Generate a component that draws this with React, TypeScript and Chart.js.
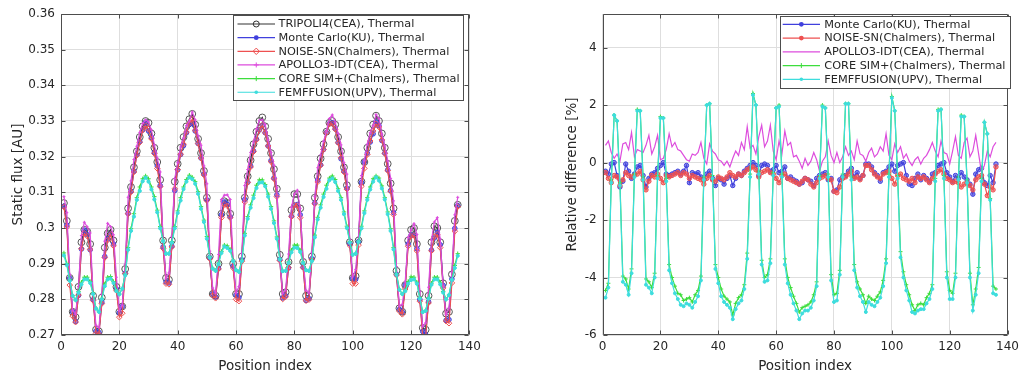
import React, { useEffect, useRef } from 'react';
import { Chart, registerables } from 'chart.js';

Chart.register(...registerables);

// ---------------- data ----------------
const positionIndex = [
  1, 2, 3, 4, 5, 6, 7, 8, 9, 10, 11, 12, 13, 14, 15, 16, 17, 18, 19, 20,
  21, 22, 23, 24, 25, 26, 27, 28, 29, 30, 31, 32, 33, 34, 35, 36, 37, 38, 39, 40,
  41, 42, 43, 44, 45, 46, 47, 48, 49, 50, 51, 52, 53, 54, 55, 56, 57, 58, 59, 60,
  61, 62, 63, 64, 65, 66, 67, 68, 69, 70, 71, 72, 73, 74, 75, 76, 77, 78, 79, 80,
  81, 82, 83, 84, 85, 86, 87, 88, 89, 90, 91, 92, 93, 94, 95, 96, 97, 98, 99, 100,
  101, 102, 103, 104, 105, 106, 107, 108, 109, 110, 111, 112, 113, 114, 115, 116, 117, 118, 119, 120,
  121, 122, 123, 124, 125, 126, 127, 128, 129, 130, 131, 132, 133, 134, 135, 136,
];

const xTicks = [0, 20, 40, 60, 80, 100, 120, 140];
const fluxTicks = [0.27, 0.28, 0.29, 0.3, 0.31, 0.32, 0.33, 0.34, 0.35, 0.36];
const diffTicks = [-6, -4, -2, 0, 2, 4];

const seriesNames = [
  'TRIPOLI4(CEA), Thermal',
  'Monte Carlo(KU), Thermal',
  'NOISE-SN(Chalmers), Thermal',
  'APOLLO3-IDT(CEA), Thermal',
  'CORE SIM+(Chalmers), Thermal',
  'FEMFFUSION(UPV), Thermal',
];

const tripoliFlux = [
  0.3070, 0.3020, 0.2860, 0.2765, 0.2750, 0.2835, 0.2960, 0.2995, 0.2990, 0.2955,
  0.2810, 0.2715, 0.2710, 0.2805, 0.2945, 0.2985, 0.2995, 0.2965, 0.2835, 0.2765,
  0.2780, 0.2885, 0.3055, 0.3115, 0.3170, 0.3215, 0.3255, 0.3285, 0.3300, 0.3295,
  0.3265, 0.3225, 0.3185, 0.3135, 0.2965, 0.2860, 0.2855, 0.2965, 0.3130, 0.3180,
  0.3225, 0.3255, 0.3285, 0.3305, 0.3320, 0.3290, 0.3250, 0.3210, 0.3160, 0.3085,
  0.2920, 0.2815, 0.2810, 0.2900, 0.3040, 0.3075, 0.3070, 0.3040, 0.2900, 0.2815,
  0.2815, 0.2920, 0.3085, 0.3145, 0.3190, 0.3235, 0.3270, 0.3300, 0.3310, 0.3285,
  0.3250, 0.3210, 0.3165, 0.3110, 0.2925, 0.2815, 0.2820, 0.2905, 0.3050, 0.3095,
  0.3095, 0.3055, 0.2905, 0.2810, 0.2810, 0.2920, 0.3085, 0.3145, 0.3195, 0.3235,
  0.3270, 0.3295, 0.3300, 0.3290, 0.3255, 0.3215, 0.3170, 0.3120, 0.2960, 0.2860,
  0.2865, 0.2965, 0.3130, 0.3185, 0.3225, 0.3265, 0.3290, 0.3315, 0.3300, 0.3265,
  0.3225, 0.3180, 0.3125, 0.3055, 0.2880, 0.2775, 0.2765, 0.2840, 0.2965, 0.2995,
  0.3000, 0.2955, 0.2815, 0.2720, 0.2715, 0.2810, 0.2960, 0.3005, 0.3000, 0.2960,
  0.2845, 0.2760, 0.2765, 0.2870, 0.3020, 0.3065,
];

const monteCarloFlux = [
  0.3061, 0.3008, 0.2859, 0.2765, 0.2738, 0.2811, 0.2941, 0.2994, 0.2981, 0.2939,
  0.2799, 0.2711, 0.2707, 0.2792, 0.2920, 0.2969, 0.2983, 0.2955, 0.2829, 0.2762,
  0.2780, 0.2873, 0.3041, 0.3103, 0.3159, 0.3205, 0.3242, 0.3275, 0.3297, 0.3272,
  0.3254, 0.3212, 0.3174, 0.3119, 0.2947, 0.2849, 0.2846, 0.2949, 0.3105, 0.3163,
  0.3206, 0.3231, 0.3267, 0.3290, 0.3293, 0.3272, 0.3237, 0.3196, 0.3151, 0.3079,
  0.2917, 0.2815, 0.2807, 0.2887, 0.3037, 0.3073, 0.3067, 0.3031, 0.2893, 0.2812,
  0.2805, 0.2911, 0.3080, 0.3128, 0.3174, 0.3216, 0.3249, 0.3275, 0.3287, 0.3267,
  0.3230, 0.3189, 0.3140, 0.3093, 0.2912, 0.2804, 0.2810, 0.2888, 0.3033, 0.3064,
  0.3066, 0.3037, 0.2890, 0.2797, 0.2802, 0.2914, 0.3070, 0.3134, 0.3177, 0.3220,
  0.3268, 0.3293, 0.3295, 0.3278, 0.3240, 0.3194, 0.3159, 0.3111, 0.2956, 0.2859,
  0.2856, 0.2962, 0.3128, 0.3185, 0.3210, 0.3241, 0.3264, 0.3297, 0.3287, 0.3245,
  0.3210, 0.3163, 0.3105, 0.3043, 0.2870, 0.2772, 0.2764, 0.2840, 0.2955, 0.2980,
  0.2980, 0.2942, 0.2800, 0.2710, 0.2701, 0.2793, 0.2938, 0.2972, 0.2988, 0.2953,
  0.2839, 0.2741, 0.2743, 0.2857, 0.2999, 0.3063,
];

const noiseSnFlux = [
  0.3059, 0.3003, 0.2840, 0.2753, 0.2736, 0.2812, 0.2942, 0.2985, 0.2977, 0.2940,
  0.2797, 0.2704, 0.2702, 0.2788, 0.2917, 0.2966, 0.2982, 0.2950, 0.2824, 0.2750,
  0.2761, 0.2872, 0.3040, 0.3101, 0.3157, 0.3204, 0.3240, 0.3274, 0.3287, 0.3277,
  0.3250, 0.3209, 0.3167, 0.3116, 0.2943, 0.2844, 0.2842, 0.2947, 0.3110, 0.3164,
  0.3207, 0.3235, 0.3269, 0.3293, 0.3305, 0.3274, 0.3237, 0.3196, 0.3149, 0.3077,
  0.2914, 0.2811, 0.2803, 0.2885, 0.3029, 0.3066, 0.3062, 0.3029, 0.2888, 0.2800,
  0.2795, 0.2907, 0.3073, 0.3128, 0.3171, 0.3214, 0.3247, 0.3275, 0.3288, 0.3267,
  0.3230, 0.3186, 0.3138, 0.3088, 0.2909, 0.2801, 0.2807, 0.2889, 0.3032, 0.3064,
  0.3063, 0.3029, 0.2889, 0.2796, 0.2799, 0.2911, 0.3068, 0.3129, 0.3176, 0.3220,
  0.3267, 0.3292, 0.3292, 0.3277, 0.3239, 0.3197, 0.3157, 0.3109, 0.2951, 0.2844,
  0.2844, 0.2952, 0.3117, 0.3167, 0.3206, 0.3244, 0.3272, 0.3292, 0.3283, 0.3247,
  0.3209, 0.3161, 0.3103, 0.3038, 0.2868, 0.2767, 0.2758, 0.2829, 0.2949, 0.2977,
  0.2979, 0.2936, 0.2795, 0.2697, 0.2695, 0.2790, 0.2936, 0.2976, 0.2982, 0.2945,
  0.2832, 0.2739, 0.2733, 0.2846, 0.2991, 0.3060,
];

const apollo3Flux = [
  0.3088, 0.3043, 0.2870, 0.2769, 0.2758, 0.2836, 0.2979, 0.3016, 0.3003, 0.2986,
  0.2816, 0.2727, 0.2721, 0.2815, 0.2963, 0.3013, 0.3004, 0.2981, 0.2862, 0.2768,
  0.2784, 0.2898, 0.3086, 0.3132, 0.3192, 0.3229, 0.3268, 0.3293, 0.3303, 0.3297,
  0.3275, 0.3233, 0.3196, 0.3157, 0.2969, 0.2859, 0.2874, 0.2977, 0.3139, 0.3183,
  0.3227, 0.3252, 0.3287, 0.3300, 0.3325, 0.3303, 0.3258, 0.3232, 0.3174, 0.3124,
  0.2935, 0.2832, 0.2818, 0.2926, 0.3080, 0.3092, 0.3093, 0.3080, 0.2912, 0.2818,
  0.2836, 0.2929, 0.3119, 0.3164, 0.3212, 0.3241, 0.3278, 0.3302, 0.3303, 0.3290,
  0.3247, 0.3212, 0.3176, 0.3113, 0.2916, 0.2816, 0.2826, 0.2927, 0.3058, 0.3095,
  0.3106, 0.3055, 0.2911, 0.2825, 0.2817, 0.2932, 0.3088, 0.3169, 0.3205, 0.3243,
  0.3272, 0.3307, 0.3317, 0.3297, 0.3265, 0.3233, 0.3183, 0.3151, 0.2967, 0.2863,
  0.2884, 0.2975, 0.3147, 0.3190, 0.3235, 0.3267, 0.3287, 0.3318, 0.3307, 0.3263,
  0.3230, 0.3188, 0.3139, 0.3076, 0.2892, 0.2781, 0.2786, 0.2850, 0.2974, 0.2994,
  0.3012, 0.2982, 0.2822, 0.2724, 0.2734, 0.2834, 0.2966, 0.3017, 0.3029, 0.2969,
  0.2835, 0.2757, 0.2776, 0.2876, 0.3037, 0.3086,
];

const coreSimFlux = [
  0.2930, 0.2900, 0.2855, 0.2810, 0.2798, 0.2822, 0.2848, 0.2862, 0.2862, 0.2850,
  0.2818, 0.2775, 0.2765, 0.2803, 0.2843, 0.2862, 0.2864, 0.2850, 0.2826, 0.2815,
  0.2830, 0.2870, 0.2945, 0.2998, 0.3040, 0.3085, 0.3115, 0.3138, 0.3146, 0.3138,
  0.3115, 0.3088, 0.3050, 0.3004, 0.2966, 0.2928, 0.2928, 0.2962, 0.3004, 0.3048,
  0.3085, 0.3115, 0.3136, 0.3148, 0.3142, 0.3130, 0.3102, 0.3060, 0.3022, 0.2976,
  0.2920, 0.2887, 0.2880, 0.2902, 0.2934, 0.2952, 0.2950, 0.2940, 0.2910, 0.2882,
  0.2878, 0.2910, 0.2985, 0.3032, 0.3065, 0.3092, 0.3120, 0.3135, 0.3135, 0.3122,
  0.3095, 0.3060, 0.3020, 0.2975, 0.2915, 0.2880, 0.2880, 0.2905, 0.2938, 0.2952,
  0.2952, 0.2938, 0.2905, 0.2882, 0.2880, 0.2910, 0.2980, 0.3030, 0.3065, 0.3095,
  0.3120, 0.3140, 0.3146, 0.3136, 0.3110, 0.3085, 0.3045, 0.3005, 0.2962, 0.2926,
  0.2928, 0.2964, 0.3005, 0.3048, 0.3085, 0.3115, 0.3138, 0.3146, 0.3140, 0.3118,
  0.3085, 0.3045, 0.2998, 0.2945, 0.2872, 0.2828, 0.2815, 0.2826, 0.2850, 0.2863,
  0.2862, 0.2848, 0.2805, 0.2765, 0.2768, 0.2805, 0.2845, 0.2862, 0.2862, 0.2848,
  0.2822, 0.2800, 0.2812, 0.2855, 0.2895, 0.2928,
];

const femffusionFlux = [
  0.2923, 0.2896, 0.2852, 0.2810, 0.2798, 0.2819, 0.2842, 0.2856, 0.2856, 0.2846,
  0.2815, 0.2774, 0.2765, 0.2800, 0.2837, 0.2856, 0.2858, 0.2846, 0.2823, 0.2814,
  0.2830, 0.2867, 0.2939, 0.2992, 0.3032, 0.3079, 0.3104, 0.3131, 0.3141, 0.3130,
  0.3108, 0.3080, 0.3044, 0.2999, 0.2963, 0.2928, 0.2928, 0.2959, 0.2999, 0.3042,
  0.3077, 0.3109, 0.3130, 0.3142, 0.3137, 0.3124, 0.3096, 0.3054, 0.3017, 0.2970,
  0.2917, 0.2886, 0.2880, 0.2899, 0.2930, 0.2948, 0.2944, 0.2936, 0.2907, 0.2882,
  0.2877, 0.2907, 0.2979, 0.3026, 0.3057, 0.3084, 0.3112, 0.3127, 0.3128, 0.3117,
  0.3088, 0.3054, 0.3014, 0.2970, 0.2912, 0.2879, 0.2880, 0.2902, 0.2932, 0.2945,
  0.2944, 0.2933, 0.2902, 0.2882, 0.2880, 0.2907, 0.2974, 0.3024, 0.3057, 0.3087,
  0.3110, 0.3134, 0.3139, 0.3129, 0.3104, 0.3079, 0.3039, 0.3000, 0.2959, 0.2925,
  0.2928, 0.2961, 0.2999, 0.3042, 0.3079, 0.3108, 0.3130, 0.3142, 0.3133, 0.3111,
  0.3080, 0.3039, 0.2992, 0.2940, 0.2869, 0.2827, 0.2815, 0.2823, 0.2844, 0.2854,
  0.2856, 0.2844, 0.2802, 0.2764, 0.2768, 0.2802, 0.2841, 0.2856, 0.2856, 0.2842,
  0.2819, 0.2800, 0.2812, 0.2854, 0.2888, 0.2922,
];

const monteCarloDiff = [
  -0.30, -0.40, -0.05, 0.00, -0.45, -0.85, -0.65, -0.05, -0.30, -0.55,
  -0.40, -0.15, -0.10, -0.45, -0.85, -0.55, -0.40, -0.35, -0.20, -0.10,
  0.00, -0.40, -0.45, -0.40, -0.35, -0.30, -0.40, -0.30, -0.10, -0.70,
  -0.35, -0.40, -0.35, -0.50, -0.60, -0.40, -0.30, -0.55, -0.80, -0.55,
  -0.60, -0.75, -0.55, -0.45, -0.80, -0.55, -0.40, -0.45, -0.30, -0.20,
  -0.10, 0.00, -0.10, -0.45, -0.10, -0.05, -0.10, -0.30, -0.25, -0.10,
  -0.35, -0.30, -0.15, -0.55, -0.50, -0.60, -0.65, -0.75, -0.70, -0.55,
  -0.60, -0.65, -0.80, -0.55, -0.45, -0.40, -0.35, -0.60, -0.55, -1.00,
  -0.95, -0.60, -0.50, -0.45, -0.30, -0.20, -0.50, -0.35, -0.55, -0.45,
  -0.05, -0.05, -0.15, -0.35, -0.45, -0.65, -0.35, -0.30, -0.15, -0.05,
  -0.30, -0.10, -0.05, 0.00, -0.45, -0.75, -0.80, -0.55, -0.40, -0.60,
  -0.45, -0.55, -0.65, -0.40, -0.35, -0.10, -0.05, 0.00, -0.35, -0.50,
  -0.65, -0.45, -0.55, -0.35, -0.50, -0.60, -0.75, -1.10, -0.40, -0.25,
  -0.20, -0.70, -0.80, -0.45, -0.70, -0.05,
];

const noiseSnDiff = [
  -0.35, -0.55, -0.70, -0.45, -0.50, -0.80, -0.60, -0.35, -0.45, -0.50,
  -0.45, -0.40, -0.30, -0.60, -0.95, -0.65, -0.45, -0.50, -0.40, -0.55,
  -0.70, -0.45, -0.50, -0.45, -0.40, -0.35, -0.45, -0.35, -0.40, -0.55,
  -0.45, -0.50, -0.55, -0.60, -0.75, -0.55, -0.45, -0.60, -0.65, -0.50,
  -0.55, -0.60, -0.50, -0.35, -0.45, -0.50, -0.40, -0.45, -0.35, -0.25,
  -0.20, -0.15, -0.25, -0.50, -0.35, -0.30, -0.25, -0.35, -0.40, -0.55,
  -0.70, -0.45, -0.40, -0.55, -0.60, -0.65, -0.70, -0.75, -0.65, -0.55,
  -0.60, -0.75, -0.85, -0.70, -0.55, -0.50, -0.45, -0.55, -0.60, -1.00,
  -1.05, -0.85, -0.55, -0.50, -0.40, -0.30, -0.55, -0.50, -0.60, -0.45,
  -0.10, -0.10, -0.25, -0.40, -0.50, -0.55, -0.40, -0.35, -0.30, -0.55,
  -0.75, -0.45, -0.40, -0.55, -0.60, -0.65, -0.55, -0.70, -0.50, -0.55,
  -0.50, -0.60, -0.70, -0.55, -0.40, -0.30, -0.25, -0.40, -0.55, -0.60,
  -0.70, -0.65, -0.70, -0.85, -0.75, -0.70, -0.80, -0.95, -0.60, -0.50,
  -0.45, -0.75, -1.15, -0.85, -0.95, -0.15,
];

const apollo3Diff = [
  0.60, 0.75, 0.35, 0.15, 0.30, 0.05, 0.65, 0.70, 0.45, 1.05,
  0.20, 0.45, 0.40, 0.35, 0.60, 0.95, 0.30, 0.55, 0.95, 0.10,
  0.15, 0.45, 1.00, 0.55, 0.70, 0.45, 0.40, 0.25, 0.10, 0.05,
  0.30, 0.25, 0.35, 0.70, 0.15, -0.05, 0.65, 0.40, 0.30, 0.10,
  0.05, -0.10, 0.05, -0.15, 0.15, 0.40, 0.25, 0.70, 0.45, 1.25,
  0.50, 0.60, 0.30, 0.90, 1.30, 0.55, 0.75, 1.30, 0.40, 0.10,
  0.75, 0.30, 1.10, 0.60, 0.70, 0.20, 0.25, 0.05, -0.20, 0.15,
  -0.10, 0.05, 0.35, 0.10, -0.30, 0.05, 0.20, 0.75, 0.25, 0.00,
  0.35, 0.00, 0.20, 0.55, 0.25, 0.40, 0.10, 0.75, 0.30, 0.25,
  0.05, 0.35, 0.50, 0.20, 0.30, 0.55, 0.40, 1.00, 0.25, 0.10,
  0.65, 0.35, 0.55, 0.15, 0.30, 0.05, -0.10, 0.10, 0.20, -0.05,
  0.15, 0.25, 0.45, 0.70, 0.40, 0.20, 0.75, 0.35, 0.30, -0.05,
  0.40, 0.90, 0.25, 0.15, 0.70, 0.85, 0.20, 0.40, 0.95, 0.30,
  -0.35, -0.10, 0.40, 0.20, 0.55, 0.70,
];

const coreSimDiff = [
  -4.45, -4.20, -0.60, 1.65, 1.45, -0.70, -3.95, -4.05, -4.40, -3.70,
  -0.40, 1.85, 1.80, -0.50, -4.05, -4.15, -4.35, -3.85, -0.45, 1.60,
  1.55, -0.55, -3.55, -4.00, -4.30, -4.55, -4.60, -4.80, -4.75, -4.70,
  -4.85, -4.60, -4.45, -3.95, -0.50, 2.00, 2.05, -0.45, -3.55, -4.00,
  -4.40, -4.65, -4.75, -4.85, -5.30, -4.90, -4.70, -4.60, -4.25, -3.15,
  -0.40, 2.40, 2.00, -0.30, -3.40, -4.00, -3.90, -3.35, -0.35, 1.90,
  2.00, -0.40, -3.35, -4.00, -4.35, -4.65, -4.90, -5.20, -5.05, -5.00,
  -4.95, -4.85, -4.60, -4.15, -0.45, 2.00, 1.90, -0.40, -3.90, -4.60,
  -4.55, -3.75, -0.40, 2.05, 2.05, -0.50, -3.55, -4.15, -4.40, -4.60,
  -4.90, -4.65, -4.75, -4.80, -4.65, -4.50, -4.10, -3.35, -0.40, 2.30,
  1.80, -0.45, -3.10, -3.80, -4.25, -4.60, -4.95, -5.15, -4.95, -4.90,
  -4.95, -4.70, -4.55, -4.25, -0.55, 1.85, 1.85, -0.45, -3.80, -4.45,
  -4.55, -3.85, -0.50, 1.65, 1.60, -0.60, -3.85, -4.95, -4.40, -3.65,
  -0.55, 1.40, 1.00, -1.25, -4.30, -4.40,
];

const femffusionDiff = [
  -4.70, -4.35, -0.70, 1.65, 1.45, -0.80, -4.15, -4.25, -4.60, -3.85,
  -0.50, 1.80, 1.80, -0.60, -4.25, -4.35, -4.55, -4.00, -0.55, 1.55,
  1.55, -0.65, -3.75, -4.20, -4.55, -4.75, -4.95, -5.00, -4.90, -4.95,
  -5.05, -4.85, -4.65, -4.10, -0.60, 2.00, 2.05, -0.55, -3.70, -4.20,
  -4.65, -4.85, -4.95, -5.05, -5.45, -5.10, -4.90, -4.80, -4.40, -3.35,
  -0.50, 2.35, 2.00, -0.40, -3.55, -4.15, -4.10, -3.50, -0.45, 1.90,
  1.95, -0.50, -3.55, -4.20, -4.60, -4.90, -5.15, -5.45, -5.25, -5.15,
  -5.15, -5.05, -4.80, -4.30, -0.55, 1.95, 1.90, -0.50, -4.10, -4.85,
  -4.80, -3.90, -0.50, 2.05, 2.05, -0.60, -3.75, -4.35, -4.65, -4.85,
  -5.20, -4.85, -4.95, -5.00, -4.85, -4.70, -4.30, -3.50, -0.50, 2.25,
  1.80, -0.55, -3.30, -4.00, -4.45, -4.80, -5.20, -5.25, -5.15, -5.10,
  -5.10, -4.90, -4.75, -4.40, -0.65, 1.80, 1.85, -0.55, -4.00, -4.75,
  -4.75, -4.00, -0.60, 1.60, 1.60, -0.70, -4.00, -5.15, -4.60, -3.85,
  -0.65, 1.40, 1.00, -1.30, -4.55, -4.60,
];

// ---------------- styling ----------------
const FONT = '"DejaVu Sans", "Liberation Sans", sans-serif';
const TEXT = '#262626';
const AXIS = '#4d4d4d';
const GRID = '#dedede';

const C_BLACK = '#333333';
const C_BLUE = '#4040dd';
const C_RED = '#ee5050';
const C_MAGENTA = '#dd4ddd';
const C_GREEN = '#3ddd3d';
const C_CYAN = '#3ddddd';

type Marker = 'circleOpen' | 'circleFilled' | 'diamond' | 'cross' | 'dot' | 'none';

function drawMarker(ctx: CanvasRenderingContext2D, m: Marker, x: number, y: number, color: string) {
  ctx.save();
  ctx.strokeStyle = color;
  ctx.fillStyle = color;
  ctx.lineWidth = 1;
  ctx.beginPath();
  if (m === 'circleOpen') {
    ctx.arc(x, y, 3, 0, Math.PI * 2);
    ctx.stroke();
  } else if (m === 'circleFilled') {
    ctx.arc(x, y, 2.4, 0, Math.PI * 2);
    ctx.fill();
  } else if (m === 'diamond') {
    ctx.moveTo(x, y - 3.2);
    ctx.lineTo(x + 3.2, y);
    ctx.lineTo(x, y + 3.2);
    ctx.lineTo(x - 3.2, y);
    ctx.closePath();
    ctx.stroke();
  } else if (m === 'cross') {
    ctx.moveTo(x - 2.5, y);
    ctx.lineTo(x + 2.5, y);
    ctx.moveTo(x, y - 2.5);
    ctx.lineTo(x, y + 2.5);
    ctx.stroke();
  } else if (m === 'dot') {
    ctx.arc(x, y, 1.8, 0, Math.PI * 2);
    ctx.fill();
  }
  ctx.restore();
}

interface LegendCfg {
  x: number; y: number; w: number; h: number;
  firstRow: number; rowStep: number;
  lineX0: number; lineX1: number; textX: number;
  markers: Marker[];
  colors: string[];
}

interface FrameCfg {
  xTitle: string;
  yTitle: string;
  yTitleX: number;
  xTitleY: number;
  legend: LegendCfg;
}

function makeFramePlugin(cfg: FrameCfg) {
  return {
    id: 'matlabFrame',
    afterDatasetsDraw(chart: any) {
      const { ctx, chartArea: a } = chart;
      const xs = chart.scales.x;
      const ys = chart.scales.y;
      ctx.save();
      const L = Math.round(a.left) + 0.5;
      const R = Math.round(a.right) - 0.5;
      const T = Math.round(a.top) + 0.5;
      const B = Math.round(a.bottom) - 0.5;
      ctx.strokeStyle = AXIS;
      ctx.lineWidth = 1;
      ctx.beginPath();
      ctx.rect(L, T, R - L, B - T);
      ctx.stroke();
      const tl = 4;
      ctx.beginPath();
      xs.ticks.forEach((t: any) => {
        const px = Math.round(xs.getPixelForValue(t.value)) + 0.5;
        ctx.moveTo(px, B); ctx.lineTo(px, B - tl);
        ctx.moveTo(px, T); ctx.lineTo(px, T + tl);
      });
      ys.ticks.forEach((t: any) => {
        const py = Math.round(ys.getPixelForValue(t.value)) + 0.5;
        ctx.moveTo(L, py); ctx.lineTo(L + tl, py);
        ctx.moveTo(R, py); ctx.lineTo(R - tl, py);
      });
      ctx.stroke();

      // legend
      const lg = cfg.legend;
      ctx.fillStyle = '#ffffff';
      ctx.fillRect(lg.x, lg.y, lg.w, lg.h);
      ctx.strokeStyle = AXIS;
      ctx.strokeRect(Math.round(lg.x) + 0.5, Math.round(lg.y) + 0.5, Math.round(lg.w) - 1, Math.round(lg.h) - 1);
      chart.data.datasets.forEach((ds: any, i: number) => {
        const cy = lg.firstRow + i * lg.rowStep;
        ctx.strokeStyle = lg.colors[i];
        ctx.lineWidth = 1.2;
        ctx.beginPath();
        ctx.moveTo(lg.lineX0, cy);
        ctx.lineTo(lg.lineX1, cy);
        ctx.stroke();
        drawMarker(ctx, lg.markers[i], (lg.lineX0 + lg.lineX1) / 2, cy, lg.colors[i]);
        ctx.fillStyle = TEXT;
        ctx.font = `11.3px ${FONT}`;
        ctx.textAlign = 'left';
        ctx.textBaseline = 'middle';
        ctx.fillText(ds.label, lg.textX, cy + 0.5);
      });
      ctx.restore();
    },
    afterDraw(chart: any) {
      const { ctx, chartArea: a } = chart;
      ctx.save();
      ctx.fillStyle = TEXT;
      ctx.font = `13.5px ${FONT}`;
      ctx.textAlign = 'center';
      ctx.textBaseline = 'alphabetic';
      ctx.fillText(cfg.xTitle, (a.left + a.right) / 2, cfg.xTitleY);
      ctx.translate(cfg.yTitleX, (a.top + a.bottom) / 2);
      ctx.rotate(-Math.PI / 2);
      ctx.textBaseline = 'middle';
      ctx.fillText(cfg.yTitle, 0, 0);
      ctx.restore();
    },
  };
}

function pts(ys: number[]) {
  return positionIndex.map((x, i) => ({ x, y: ys[i] }));
}

function lineDs(label: string, data: number[], color: string, opts: any) {
  return {
    label,
    data: pts(data),
    borderColor: color,
    backgroundColor: color,
    borderWidth: 1.2,
    pointBorderWidth: 1,
    pointHoverRadius: 0,
    tension: 0,
    ...opts,
  };
}

function baseOptions(yMin: number, yMax: number, yTickValues: number[], yWidth: number, rightPad: number) {
  return {
    responsive: false,
    animation: false,
    devicePixelRatio: 1,
    events: [],
    layout: { padding: { top: 14, right: rightPad, bottom: 0, left: 0 } },
    plugins: { legend: { display: false }, tooltip: { enabled: false }, title: { display: false } },
    scales: {
      x: {
        type: 'linear',
        min: 0,
        max: 140,
        afterBuildTicks: (s: any) => { s.ticks = xTicks.map((v) => ({ value: v })); },
        ticks: { font: { family: FONT, size: 12 }, color: TEXT, padding: 5, maxRotation: 0, autoSkip: false },
        grid: { color: GRID, drawTicks: false, lineWidth: 1 },
        border: { display: false },
        afterFit: (s: any) => { s.height = 41; },
      },
      y: {
        type: 'linear',
        min: yMin,
        max: yMax,
        afterBuildTicks: (s: any) => { s.ticks = yTickValues.map((v) => ({ value: v })); },
        ticks: {
          font: { family: FONT, size: 12 },
          color: TEXT,
          padding: 6,
          autoSkip: false,
          callback: (v: any) => String(Math.round(Number(v) * 100) / 100),
        },
        grid: { color: GRID, drawTicks: false, lineWidth: 1 },
        border: { display: false },
        afterFit: (s: any) => { s.width = yWidth; },
      },
    },
  };
}

export default function App() {
  const leftRef = useRef<HTMLCanvasElement>(null);
  const rightRef = useRef<HTMLCanvasElement>(null);

  useEffect(() => {
    document.body.style.margin = '0';
    document.body.style.background = '#ffffff';

    const leftColors = [C_BLACK, C_BLUE, C_RED, C_MAGENTA, C_GREEN, C_CYAN];
    const leftChart = new Chart(leftRef.current as HTMLCanvasElement, {
      type: 'line',
      data: {
        datasets: [
          lineDs(seriesNames[0], tripoliFlux, C_BLACK, { order: 5, pointStyle: 'circle', pointRadius: 3.4, pointBackgroundColor: 'rgba(0,0,0,0)', pointBorderColor: '#555555' }),
          lineDs(seriesNames[1], monteCarloFlux, C_BLUE, { order: 4, pointStyle: 'circle', pointRadius: 2.3, pointBackgroundColor: 'rgba(70,70,220,0.55)', pointBorderColor: C_BLUE }),
          lineDs(seriesNames[2], noiseSnFlux, C_RED, { order: 3, pointStyle: 'rectRot', pointRadius: 2.8, pointBackgroundColor: 'rgba(0,0,0,0)', pointBorderColor: C_RED }),
          lineDs(seriesNames[3], apollo3Flux, C_MAGENTA, { order: 2, pointStyle: 'cross', pointRadius: 1.5, pointBorderColor: C_MAGENTA }),
          lineDs(seriesNames[4], coreSimFlux, C_GREEN, { order: 1, pointStyle: 'cross', pointRadius: 2.2, pointBorderColor: C_GREEN }),
          lineDs(seriesNames[5], femffusionFlux, C_CYAN, { order: 0, pointStyle: 'circle', pointRadius: 1.6, pointBackgroundColor: C_CYAN, pointBorderColor: C_CYAN }),
        ],
      },
      options: baseOptions(0.27, 0.36, fluxTicks, 61, 42.6) as any,
      plugins: [
        makeFramePlugin({
          xTitle: 'Position index',
          yTitle: 'Static flux [AU]',
          yTitleX: 18.5,
          xTitleY: 369.5,
          legend: {
            x: 233, y: 15, w: 231, h: 86,
            firstRow: 24, rowStep: 13.65,
            lineX0: 237.5, lineX1: 275, textX: 278.5,
            markers: ['circleOpen', 'circleFilled', 'diamond', 'cross', 'cross', 'dot'],
            colors: leftColors,
          },
        }),
      ],
    });

    const rightColors = [C_BLUE, C_RED, C_MAGENTA, C_GREEN, C_CYAN];
    const rightChart = new Chart(rightRef.current as HTMLCanvasElement, {
      type: 'line',
      data: {
        datasets: [
          lineDs(seriesNames[1], monteCarloDiff, C_BLUE, { order: 4, pointStyle: 'circle', pointRadius: 2.2, pointBackgroundColor: 'rgba(70,70,220,0.6)', pointBorderColor: C_BLUE }),
          lineDs(seriesNames[2], noiseSnDiff, C_RED, { order: 3, pointStyle: 'circle', pointRadius: 2.2, pointBackgroundColor: 'rgba(238,80,80,0.6)', pointBorderColor: C_RED }),
          lineDs(seriesNames[3], apollo3Diff, C_MAGENTA, { order: 2, pointRadius: 0 }),
          lineDs(seriesNames[4], coreSimDiff, C_GREEN, { order: 1, pointStyle: 'cross', pointRadius: 2, pointBorderColor: C_GREEN }),
          lineDs(seriesNames[5], femffusionDiff, C_CYAN, { order: 0, pointStyle: 'circle', pointRadius: 1.5, pointBackgroundColor: C_CYAN, pointBorderColor: C_CYAN }),
        ],
      },
      options: baseOptions(-6, 5.17, diffTicks, 90.6, 12.6) as any,
      plugins: [
        makeFramePlugin({
          xTitle: 'Position index',
          yTitle: 'Relative difference [%]',
          yTitleX: 60.5,
          xTitleY: 369.5,
          legend: {
            x: 268.3, y: 16, w: 231.2, h: 72.5,
            firstRow: 24.3, rowStep: 13.75,
            lineX0: 270.7, lineX1: 308, textX: 312.3,
            markers: ['circleFilled', 'circleFilled', 'none', 'cross', 'dot'],
            colors: rightColors,
          },
        }),
      ],
    });

    return () => {
      leftChart.destroy();
      rightChart.destroy();
    };
  }, []);

  return (
    <div style={{ position: 'relative', width: 1024, height: 376, background: '#fff' }}>
      <canvas ref={leftRef} width={512} height={376} style={{ position: 'absolute', left: 0, top: 0, width: 512, height: 376 }} />
      <canvas ref={rightRef} width={512} height={376} style={{ position: 'absolute', left: 512, top: 0, width: 512, height: 376 }} />
    </div>
  );
}
